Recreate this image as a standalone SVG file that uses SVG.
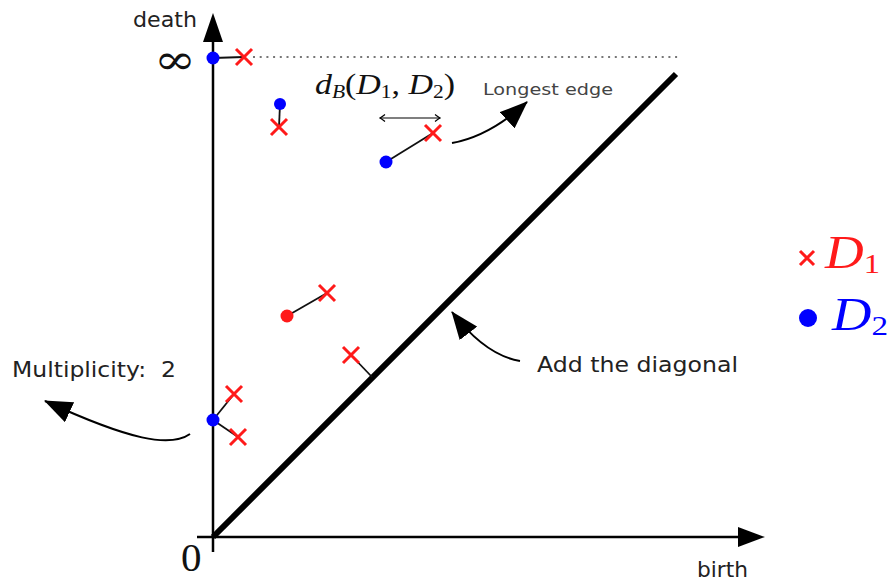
<svg xmlns="http://www.w3.org/2000/svg" width="892" height="582" viewBox="0 0 892 582">
<style>
.lbl{font-family:"DejaVu Sans","Liberation Sans",sans-serif;fill:#222;}
.math{font-family:"Liberation Serif","DejaVu Serif",serif;fill:#111;}
.xm{stroke:#ff1a1a;stroke-width:3;fill:none;}
.conn{stroke:#111;stroke-width:1.8;fill:none;}
.curve{stroke:#000;stroke-width:2;fill:none;marker-end:url(#bigArrow);}
</style>
<defs>
<path id="xmark" d="M-8,-8 L8,8 M-8,8 L8,-8"/>
<marker id="bigArrow" markerUnits="userSpaceOnUse" viewBox="0 0 28 22" markerWidth="28" markerHeight="22" refX="27" refY="11" orient="auto">
<path d="M0,0 L28,11 L0,22 z" fill="#000"/>
</marker>
<marker id="smallHead" markerUnits="userSpaceOnUse" viewBox="-6 -5 7 10" markerWidth="7" markerHeight="10" refX="0" refY="0" orient="auto-start-reverse">
<path d="M-5,-3.5 Q-1.5,-0.8 0,0 Q-1.5,0.8 -5,3.5" stroke="#000" stroke-width="1.2" fill="none"/>
</marker>
</defs>
<rect width="892" height="582" fill="#fff"/>

<g id="axes">
<line x1="213" y1="552" x2="213" y2="40" stroke="#000" stroke-width="2.5"/>
<polygon points="213,13 203,42 223,42" fill="#000"/>
<line x1="197" y1="537" x2="740" y2="537" stroke="#000" stroke-width="2.5"/>
<polygon points="765,537 738,527 738,547" fill="#000"/>
<line x1="253" y1="57" x2="680" y2="57" stroke="#777" stroke-width="2" stroke-dasharray="2 4.7"/>
<line id="diagonal" x1="213" y1="537" x2="676" y2="74" stroke="#000" stroke-width="6"/>
<text class="lbl" x="133" y="27" font-size="21" textLength="64" lengthAdjust="spacingAndGlyphs">death</text>
<text class="lbl" x="697" y="577" font-size="21" textLength="51" lengthAdjust="spacingAndGlyphs">birth</text>
<text class="math" x="181" y="571" font-size="41">0</text>
<text transform="translate(154,74) scale(1.2,1)" font-size="42" font-family="'DejaVu Serif','Liberation Serif',serif" fill="#111">∞</text>
</g>

<g id="connectors">
<line class="conn" x1="213" y1="58" x2="244" y2="57"/>
<line class="conn" x1="280" y1="104" x2="279" y2="127"/>
<line class="conn" x1="386" y1="162" x2="433" y2="133"/>
<line class="conn" x1="287" y1="316" x2="327" y2="293"/>
<line class="conn" x1="351" y1="355" x2="372" y2="377"/>
<line class="conn" x1="213" y1="420" x2="234" y2="394"/>
<line class="conn" x1="213" y1="420" x2="238" y2="437"/>
<line x1="380" y1="118" x2="440" y2="118" stroke="#000" stroke-width="1.2" marker-start="url(#smallHead)" marker-end="url(#smallHead)"/>
<path class="curve" d="M452,143 Q490,136 527,102"/>
<path class="curve" d="M520,361 Q485,355 452,312"/>
<path class="curve" d="M190,434 C170,448 130,440 45,401"/>
</g>

<g id="p-inf">
<circle cx="213" cy="58" r="6.5" fill="#0000ff"/>
<use href="#xmark" class="xm" x="244" y="57"/>
</g>
<g id="p-top">
<circle cx="280" cy="104" r="6" fill="#0000ff"/>
<use href="#xmark" class="xm" x="279" y="127"/>
</g>
<g id="p-longest">
<circle cx="386" cy="162" r="6.5" fill="#0000ff"/>
<use href="#xmark" class="xm" x="433" y="133"/>
</g>
<g id="p-mid">
<circle cx="287" cy="316" r="6.5" fill="#ff1a1a"/>
<use href="#xmark" class="xm" x="327" y="293"/>
</g>
<g id="p-diag">
<use href="#xmark" class="xm" x="351" y="355"/>
</g>
<g id="p-mult">
<circle cx="213" cy="420" r="6.5" fill="#0000ff"/>
<use href="#xmark" class="xm" x="234" y="394"/>
<use href="#xmark" class="xm" x="238" y="437"/>
</g>

<g id="label-dB">
<text class="math" x="315" y="94" font-size="30" font-style="italic" textLength="140" lengthAdjust="spacingAndGlyphs">d<tspan font-size="19" dy="4">B</tspan><tspan font-style="normal" dy="-4">(</tspan>D<tspan font-size="19" font-style="normal" dy="4">1</tspan><tspan font-style="normal" dy="-4">, </tspan>D<tspan font-size="19" font-style="normal" dy="4">2</tspan><tspan font-style="normal" dy="-4">)</tspan></text>
</g>
<g id="label-longest">
<text class="lbl" x="483" y="95" font-size="16" style="fill:#444" textLength="130" lengthAdjust="spacingAndGlyphs">Longest edge</text>
</g>
<g id="label-diagonal">
<text class="lbl" x="537" y="372" font-size="21" textLength="201" lengthAdjust="spacingAndGlyphs">Add the diagonal</text>
</g>
<g id="label-mult">
<text class="lbl" x="12" y="377" font-size="21" xml:space="preserve" textLength="164" lengthAdjust="spacingAndGlyphs">Multiplicity:  2</text>
</g>

<g id="legend-D1">
<path d="M-7,-7 L7,7 M-7,7 L7,-7" class="xm" transform="translate(807,258)"/>
<text class="math" x="825" y="268" font-size="46" font-style="italic" style="fill:#ff1a1a" textLength="55" lengthAdjust="spacingAndGlyphs">D<tspan font-style="normal" font-size="28" dy="5">1</tspan></text>
</g>
<g id="legend-D2">
<circle cx="808" cy="318" r="9" fill="#0000ff"/>
<text class="math" x="832" y="330" font-size="46" font-style="italic" style="fill:#0000ff" textLength="56" lengthAdjust="spacingAndGlyphs">D<tspan font-style="normal" font-size="28" dy="5">2</tspan></text>
</g>
</svg>
